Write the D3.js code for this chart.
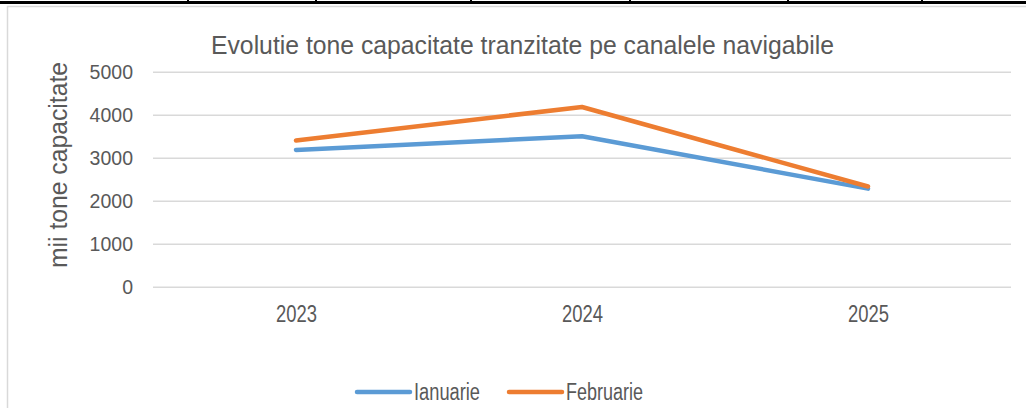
<!DOCTYPE html>
<html>
<head>
<meta charset="utf-8">
<script src="https://cdn.jsdelivr.net/npm/d3@7"></script>
<style>
  body { margin: 0; background: #fff; }
  svg { display: block; font-family: "Liberation Sans", Arial, sans-serif; }
</style>
</head>
<body>
<svg class="chart"></svg>
<script>
var width = 1026,
    height = 408;

var years = ["2023", "2024", "2025"];
var ianuarie = [3180, 3500, 2280];
var februarie = [3400, 4180, 2330];
var yTicks = [0, 1000, 2000, 3000, 4000, 5000];
var seriesNames = ["Ianuarie", "Februarie"];
var colors = ["#5B9BD5", "#ED7D31"];

// plot area edges (note: "top" is a reserved window global, so use other names)
var plotLeft = 153, plotRight = 1011, plotTop = 71.7, plotBottom = 286.7;

var chart = d3.select(".chart")
    .attr("width", width)
    .attr("height", height);

// leftover table border at the top of the page
chart.append("rect").attr("x", 0).attr("y", 1).attr("width", width).attr("height", 3).attr("fill", "#000");
[188, 316, 471, 630, 788, 922].forEach(function(x) {
  chart.append("rect").attr("x", x - 1).attr("y", 0).attr("width", 2).attr("height", 4).attr("fill", "#000");
});

// chart frame (runs off right and bottom)
chart.append("path")
    .attr("d", "M7.5," + (height + 2) + "V6.5H" + (width + 2))
    .attr("fill", "none")
    .attr("stroke", "#d9d9d9")
    .attr("stroke-width", 1.5);

var xscale = d3.scalePoint().domain(years).range([plotLeft, plotRight]).padding(0.5);
var yscale = d3.scaleLinear().domain([0, 5000]).range([plotBottom, plotTop]);

// gridlines + y labels
var yAxis = chart.append("g")
    .attr("transform", "translate(" + plotLeft + ",0)")
    .call(d3.axisLeft(yscale).tickValues(yTicks).tickSize(-(plotRight - plotLeft)).tickPadding(20).tickFormat(d3.format("d")));
yAxis.select(".domain").remove();
yAxis.selectAll(".tick line").attr("stroke", "#d9d9d9").attr("stroke-width", 1.4);
yAxis.selectAll(".tick text")
    .attr("fill", "#595959")
    .attr("font-size", "19.5px")
    .attr("font-family", "Liberation Sans, Arial, sans-serif")
    .attr("dy", null)
    .attr("y", 7);

// x labels
var xAxis = chart.append("g")
    .attr("transform", "translate(0," + plotBottom + ")")
    .call(d3.axisBottom(xscale).tickSize(0).tickPadding(0));
xAxis.select(".domain").remove();
xAxis.selectAll(".tick text")
    .attr("fill", "#595959")
    .attr("font-size", "23px")
    .attr("font-family", "Liberation Sans, Arial, sans-serif")
    .attr("dy", null)
    .attr("y", 35.6)
    .attr("textLength", 41)
    .attr("lengthAdjust", "spacingAndGlyphs");

// lines
var line = d3.line()
    .x(function(d, i) { return xscale(years[i]); })
    .y(function(d) { return yscale(d); });

[ianuarie, februarie].forEach(function(s, i) {
  chart.append("path")
      .datum(s)
      .attr("d", line)
      .attr("fill", "none")
      .attr("stroke", colors[i])
      .attr("stroke-width", 4.5)
      .attr("stroke-linecap", "round")
      .attr("stroke-linejoin", "round");
});

// title
chart.append("text")
    .attr("x", 211)
    .attr("y", 54)
    .attr("fill", "#595959")
    .attr("font-size", "26.5px")
    .attr("textLength", 623)
    .attr("lengthAdjust", "spacingAndGlyphs")
    .text("Evolutie tone capacitate tranzitate pe canalele navigabile");

// y axis title
chart.append("text")
    .attr("transform", "translate(67,165) rotate(-90)")
    .attr("text-anchor", "middle")
    .attr("fill", "#595959")
    .attr("font-size", "25px")
    .attr("textLength", 206)
    .attr("lengthAdjust", "spacingAndGlyphs")
    .text("mii tone capacitate");

// legend
var legendX = [357, 509];
var legendW = [66, 77];
seriesNames.forEach(function(name, i) {
  chart.append("line")
      .attr("x1", legendX[i]).attr("x2", legendX[i] + 53)
      .attr("y1", 392).attr("y2", 392)
      .attr("stroke", colors[i])
      .attr("stroke-width", 4.5)
      .attr("stroke-linecap", "round");
  chart.append("text")
      .attr("x", legendX[i] + 57)
      .attr("y", 400)
      .attr("fill", "#595959")
      .attr("font-size", "23px")
      .attr("textLength", legendW[i])
      .attr("lengthAdjust", "spacingAndGlyphs")
      .text(name);
});
</script>
</body>
</html>
